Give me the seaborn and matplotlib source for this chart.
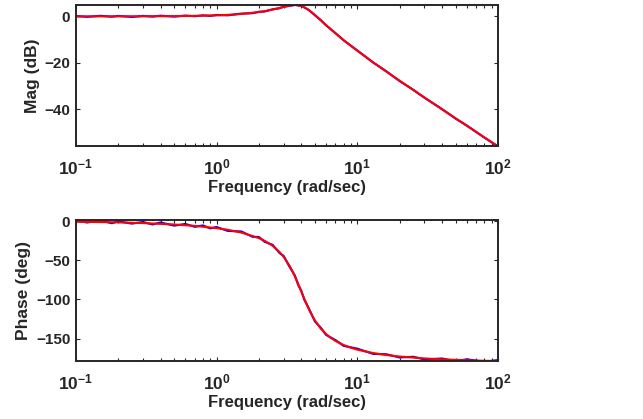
import numpy as np
import pandas as pd
import matplotlib
matplotlib.use('Agg')
import matplotlib.pyplot as plt
import seaborn as sns
from matplotlib.ticker import LogLocator, NullFormatter

sns.set_style('ticks')
plt.rcParams['font.family'] = ['Liberation Sans', 'DejaVu Sans']
plt.rcParams['font.weight'] = 'bold'
plt.rcParams['mathtext.fontset'] = 'custom'
plt.rcParams['mathtext.rm'] = 'Liberation Sans:bold'
plt.rcParams['mathtext.it'] = 'Liberation Sans:bold'
plt.rcParams['mathtext.bf'] = 'Liberation Sans:bold'

# fitted response (red)
freq_fit = [0.1, 0.2, 0.3, 0.5, 0.7, 1.0, 1.2, 1.5, 2.0, 2.2, 2.5, 2.8, 3.0, 3.3, 3.4, 3.5,
            3.6, 3.7, 3.8, 3.9, 4.0, 4.1, 4.2, 4.5, 4.8, 5.0, 5.5, 6.0, 6.5, 7.0, 8.0, 9.0,
            10, 13, 16, 20, 30, 40, 60, 80, 100]
mag_fit = [0.0, 0.02, 0.04, 0.11, 0.22, 0.45, 0.65, 1.03, 1.85, 2.25, 2.91, 3.60, 4.05, 4.60,
           4.72, 4.81, 4.85, 4.83, 4.76, 4.63, 4.44, 4.19, 3.90, 2.79, 1.48, 0.56, -1.68,
           -3.75, -5.61, -7.29, -10.19, -12.63, -14.74, -19.79, -23.63, -27.67, -34.88,
           -39.93, -47.01, -52.02, -55.91]
phase_fit = [-0.9, -1.7, -2.6, -4.4, -6.2, -9.1, -11.2, -14.7, -21.8, -25.3, -31.6, -39.5,
             -45.8, -57.2, -61.5, -65.9, -70.6, -75.4, -80.3, -85.2, -90.0, -94.7, -99.2,
             -111.5, -121.4, -126.9, -137.2, -144.2, -149.3, -153.0, -158.2, -161.6, -164.1,
             -168.5, -170.9, -172.9, -175.3, -176.5, -177.7, -178.3, -178.6]

freq_meas = [0.1, 0.12, 0.15, 0.18, 0.2, 0.25, 0.3, 0.35, 0.4, 0.5, 0.6, 0.7, 0.8, 0.9, 1.0,
             1.2, 1.5, 1.8, 2.0, 2.2, 2.5, 2.8, 3.0, 3.3, 3.6, 3.8, 4.0, 4.2, 4.5, 5.0, 5.5,
             6.0, 7.0, 8.0, 10, 13, 16, 20, 25, 30, 40, 50, 60, 80, 100]
mag_meas = [0.15, -0.2, 0.25, -0.15, 0.2, -0.25, 0.2, -0.1, 0.3, -0.1, 0.35, 0.05, 0.45, 0.2,
            0.6, 0.45, 1.2, 1.35, 2.0, 2.1, 3.05, 3.5, 4.2, 4.5, 4.95, 4.7, 4.5, 3.85, 2.85,
            0.5, -1.6, -3.85, -7.2, -10.3, -14.65, -19.9, -23.5, -27.8, -31.55, -34.95,
            -39.85, -43.95, -46.9, -52.1, -55.85]
phase_meas = [0.8, -1.9, 0.6, -2.8, -0.4, -3.3, -1.2, -4.4, -1.8, -5.9, -3.7, -7.4, -5.6,
              -9.4, -7.6, -12.6, -13.3, -20.1, -20.4, -26.6, -30.3, -40.8, -44.6, -58.4,
              -69.5, -81.4, -89.0, -100.3, -110.6, -128.1, -136.1, -145.3, -151.9, -159.3,
              -162.8, -169.6, -169.9, -174.1, -173.2, -176.6, -175.4, -178.9, -176.4,
              -179.6, -177.4]

xtick_vals = [0.1, 1, 10, 100]
xtick_labels = [r'$10^{-1}$', r'$10^{0}$', r'$10^{1}$', r'$10^{2}$']

fit = pd.DataFrame({'freq': freq_fit, 'mag': mag_fit, 'phase': phase_fit})
meas = pd.DataFrame({'freq': freq_meas, 'mag': mag_meas, 'phase': phase_meas})

fig = plt.figure(figsize=(6.43, 4.19), dpi=100)
ax1 = fig.add_axes([0.118, 0.6516, 0.6565, 0.3365])
ax2 = fig.add_axes([0.118, 0.1384, 0.6565, 0.3365])

panels = [(ax1, 'mag', 'Mag (dB)', (-55.7, 4.9), [-40, -20, 0]),
          (ax2, 'phase', 'Phase (deg)', (-178.6, 1.3), [-150, -100, -50, 0])]

for ax, col, ylabel, ylim, yticks in panels:
    sns.lineplot(data=meas, x='freq', y=col, color='blue', linewidth=1.5, ax=ax)
    sns.lineplot(data=fit, x='freq', y=col, color='red', linewidth=1.5, ax=ax)
    ax.set_xscale('log')
    ax.set_xlim(0.1, 100)
    ax.set_ylim(*ylim)
    ax.set_yticks(yticks)
    ax.set_xticks(xtick_vals)
    ax.set_xticklabels(xtick_labels)
    ax.xaxis.set_minor_locator(LogLocator(base=10, subs=np.arange(2, 10), numticks=20))
    ax.xaxis.set_minor_formatter(NullFormatter())
    ax.tick_params(which='both', direction='in', top=True, right=True, width=0.8)
    ax.tick_params(which='major', length=3)
    ax.tick_params(which='minor', length=2)
    ax.tick_params(axis='x', which='major', labelsize=12.5, pad=8)
    ax.tick_params(axis='y', labelsize=11, pad=4)
    for s in ax.spines.values():
        s.set_linewidth(1.4)
        s.set_visible(True)
    ax.set_xlabel('Frequency (rad/sec)', fontsize=12, fontweight='bold', labelpad=2)
    ax.set_ylabel(ylabel, fontsize=12.5, fontweight='bold', labelpad=3.5)
    for lbl in ax.get_yticklabels():
        lbl.set_fontweight('bold')

fig.savefig('out.png', dpi=100)
